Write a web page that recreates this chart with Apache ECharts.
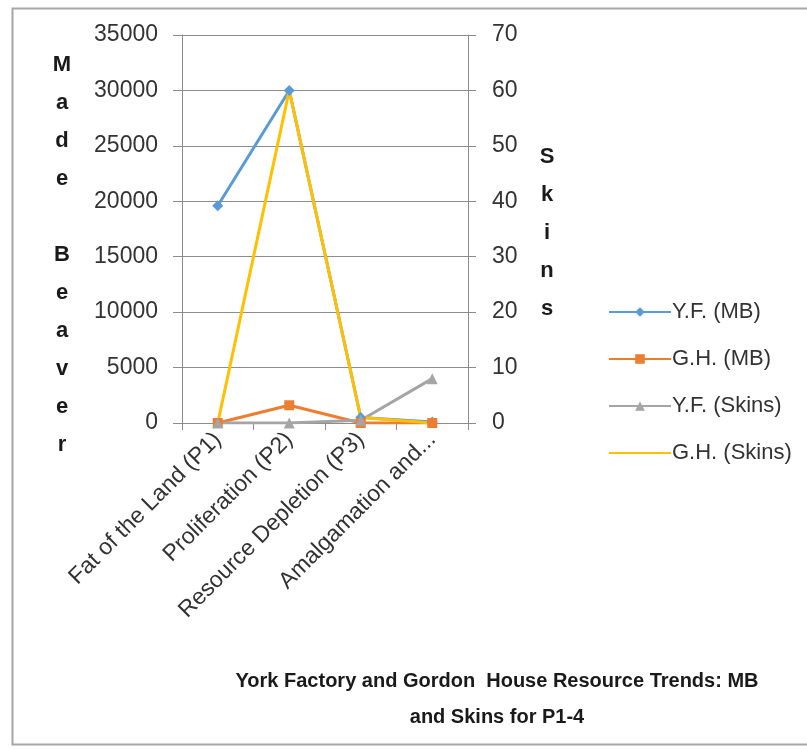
<!DOCTYPE html>
<html>
<head>
<meta charset="utf-8">
<script src="https://cdn.jsdelivr.net/npm/echarts@6/dist/echarts.min.js"></script>
<style>html,body{margin:0;padding:0;background:#fff;}#c{width:807px;height:749px;}</style>
</head>
<body>
<div id="c"></div>
<script>
var categories = ['Fat of the Land (P1)', 'Proliferation (P2)', 'Resource Depletion (P3)', 'Amalgamation and...'];
var yfMB = [19600, 30000, 500, 100];
var ghMB = [0, 1600, 0, 0];
var yfSkins = [0, 0, 0.5, 8];
var ghSkins = [0, 60, 1, 0];
var seriesNames = ['Y.F. (MB)', 'G.H. (MB)', 'Y.F. (Skins)', 'G.H. (Skins)'];
var titleText = 'York Factory and Gordon  House Resource Trends: MB\nand Skins for P1-4';
var leftAxisTitle = 'M\na\nd\ne\n\nB\ne\na\nv\ne\nr';
var rightAxisTitle = 'S\nk\ni\nn\ns';

var FONT = 'Liberation Sans';
var chart = echarts.init(document.getElementById('c'), null, {renderer: 'canvas'});
var axisLineStyle = {color: '#8c8c8c', width: 1};
chart.setOption({
  backgroundColor: '#ffffff',
  animation: false,
  textStyle: {fontFamily: FONT},
  title: {
    text: titleText,
    left: 492, top: 658, textAlign: 'center',
    textStyle: {fontFamily: FONT, fontSize: 20, fontWeight: 'bold', color: '#1a1a1a', lineHeight: 36}
  },
  legend: {
    orient: 'vertical',
    left: 603, top: 296,
    itemWidth: 62, itemHeight: 12, itemGap: 25,
    textStyle: {fontFamily: FONT, fontSize: 22, color: '#333', padding: [0, 0, 0, -4]},
    data: seriesNames.map(function (n, i) {
      return i === 3 ? {name: n, itemStyle: {opacity: 0}} : {name: n};
    })
  },
  grid: {left: 182, right: 339, top: 35, bottom: 326, containLabel: false},
  xAxis: {
    type: 'category',
    data: categories,
    boundaryGap: true,
    axisLine: {lineStyle: axisLineStyle},
    axisTick: {show: true, length: 7, lineStyle: axisLineStyle},
    axisLabel: {rotate: 45, fontSize: 23, color: '#333', margin: 13, interval: 0, fontFamily: FONT}
  },
  yAxis: [
    {
      type: 'value', min: 0, max: 35000, interval: 5000,
      axisLine: {show: true, lineStyle: axisLineStyle},
      axisTick: {show: true, length: 9, lineStyle: axisLineStyle},
      axisLabel: {fontSize: 23, color: '#333', margin: 24, fontFamily: FONT,
        formatter: function (v) { return String(v); }},
      splitLine: {show: true, lineStyle: {color: '#8c8c8c', width: 1}}
    },
    {
      type: 'value', min: 0, max: 70, interval: 10,
      axisLine: {show: true, lineStyle: axisLineStyle},
      axisTick: {show: true, length: 8, lineStyle: axisLineStyle},
      axisLabel: {fontSize: 23, color: '#333', margin: 24, fontFamily: FONT},
      splitLine: {show: false}
    }
  ],
  series: [
    {name: seriesNames[0], type: 'line', yAxisIndex: 0, data: yfMB, symbol: 'diamond', symbolSize: 11,
     itemStyle: {color: '#5B9BD5'}, lineStyle: {width: 3, color: '#5B9BD5'}},
    {name: seriesNames[1], type: 'line', yAxisIndex: 0, data: ghMB, symbol: 'rect', symbolSize: 10,
     itemStyle: {color: '#ED7D31'}, lineStyle: {width: 3, color: '#ED7D31'}},
    {name: seriesNames[2], type: 'line', yAxisIndex: 1, data: yfSkins, symbol: 'triangle', symbolSize: 11,
     itemStyle: {color: '#A5A5A5'}, lineStyle: {width: 3, color: '#A5A5A5'}},
    {name: seriesNames[3], type: 'line', yAxisIndex: 1, data: ghSkins, symbol: 'none', symbolSize: 9,
     itemStyle: {color: '#FFC000'}, lineStyle: {width: 3, color: '#FFC000'}}
  ],
  graphic: [
    {type: 'rect', left: 10, top: 6, shape: {width: 820, height: 736}, silent: true, z: -10,
     style: {fill: 'none', stroke: '#a6a6a6', lineWidth: 2}},
    {type: 'text', left: 50, top: 46, silent: true,
     style: {text: leftAxisTitle, font: 'bold 22px "' + FONT + '"', fill: '#1a1a1a', lineHeight: 38, textAlign: 'center', width: 24}},
    {type: 'text', left: 536, top: 138, silent: true,
     style: {text: rightAxisTitle, font: 'bold 22px "' + FONT + '"', fill: '#1a1a1a', lineHeight: 38, textAlign: 'center', width: 22}}
  ]
});
</script>
</body>
</html>
